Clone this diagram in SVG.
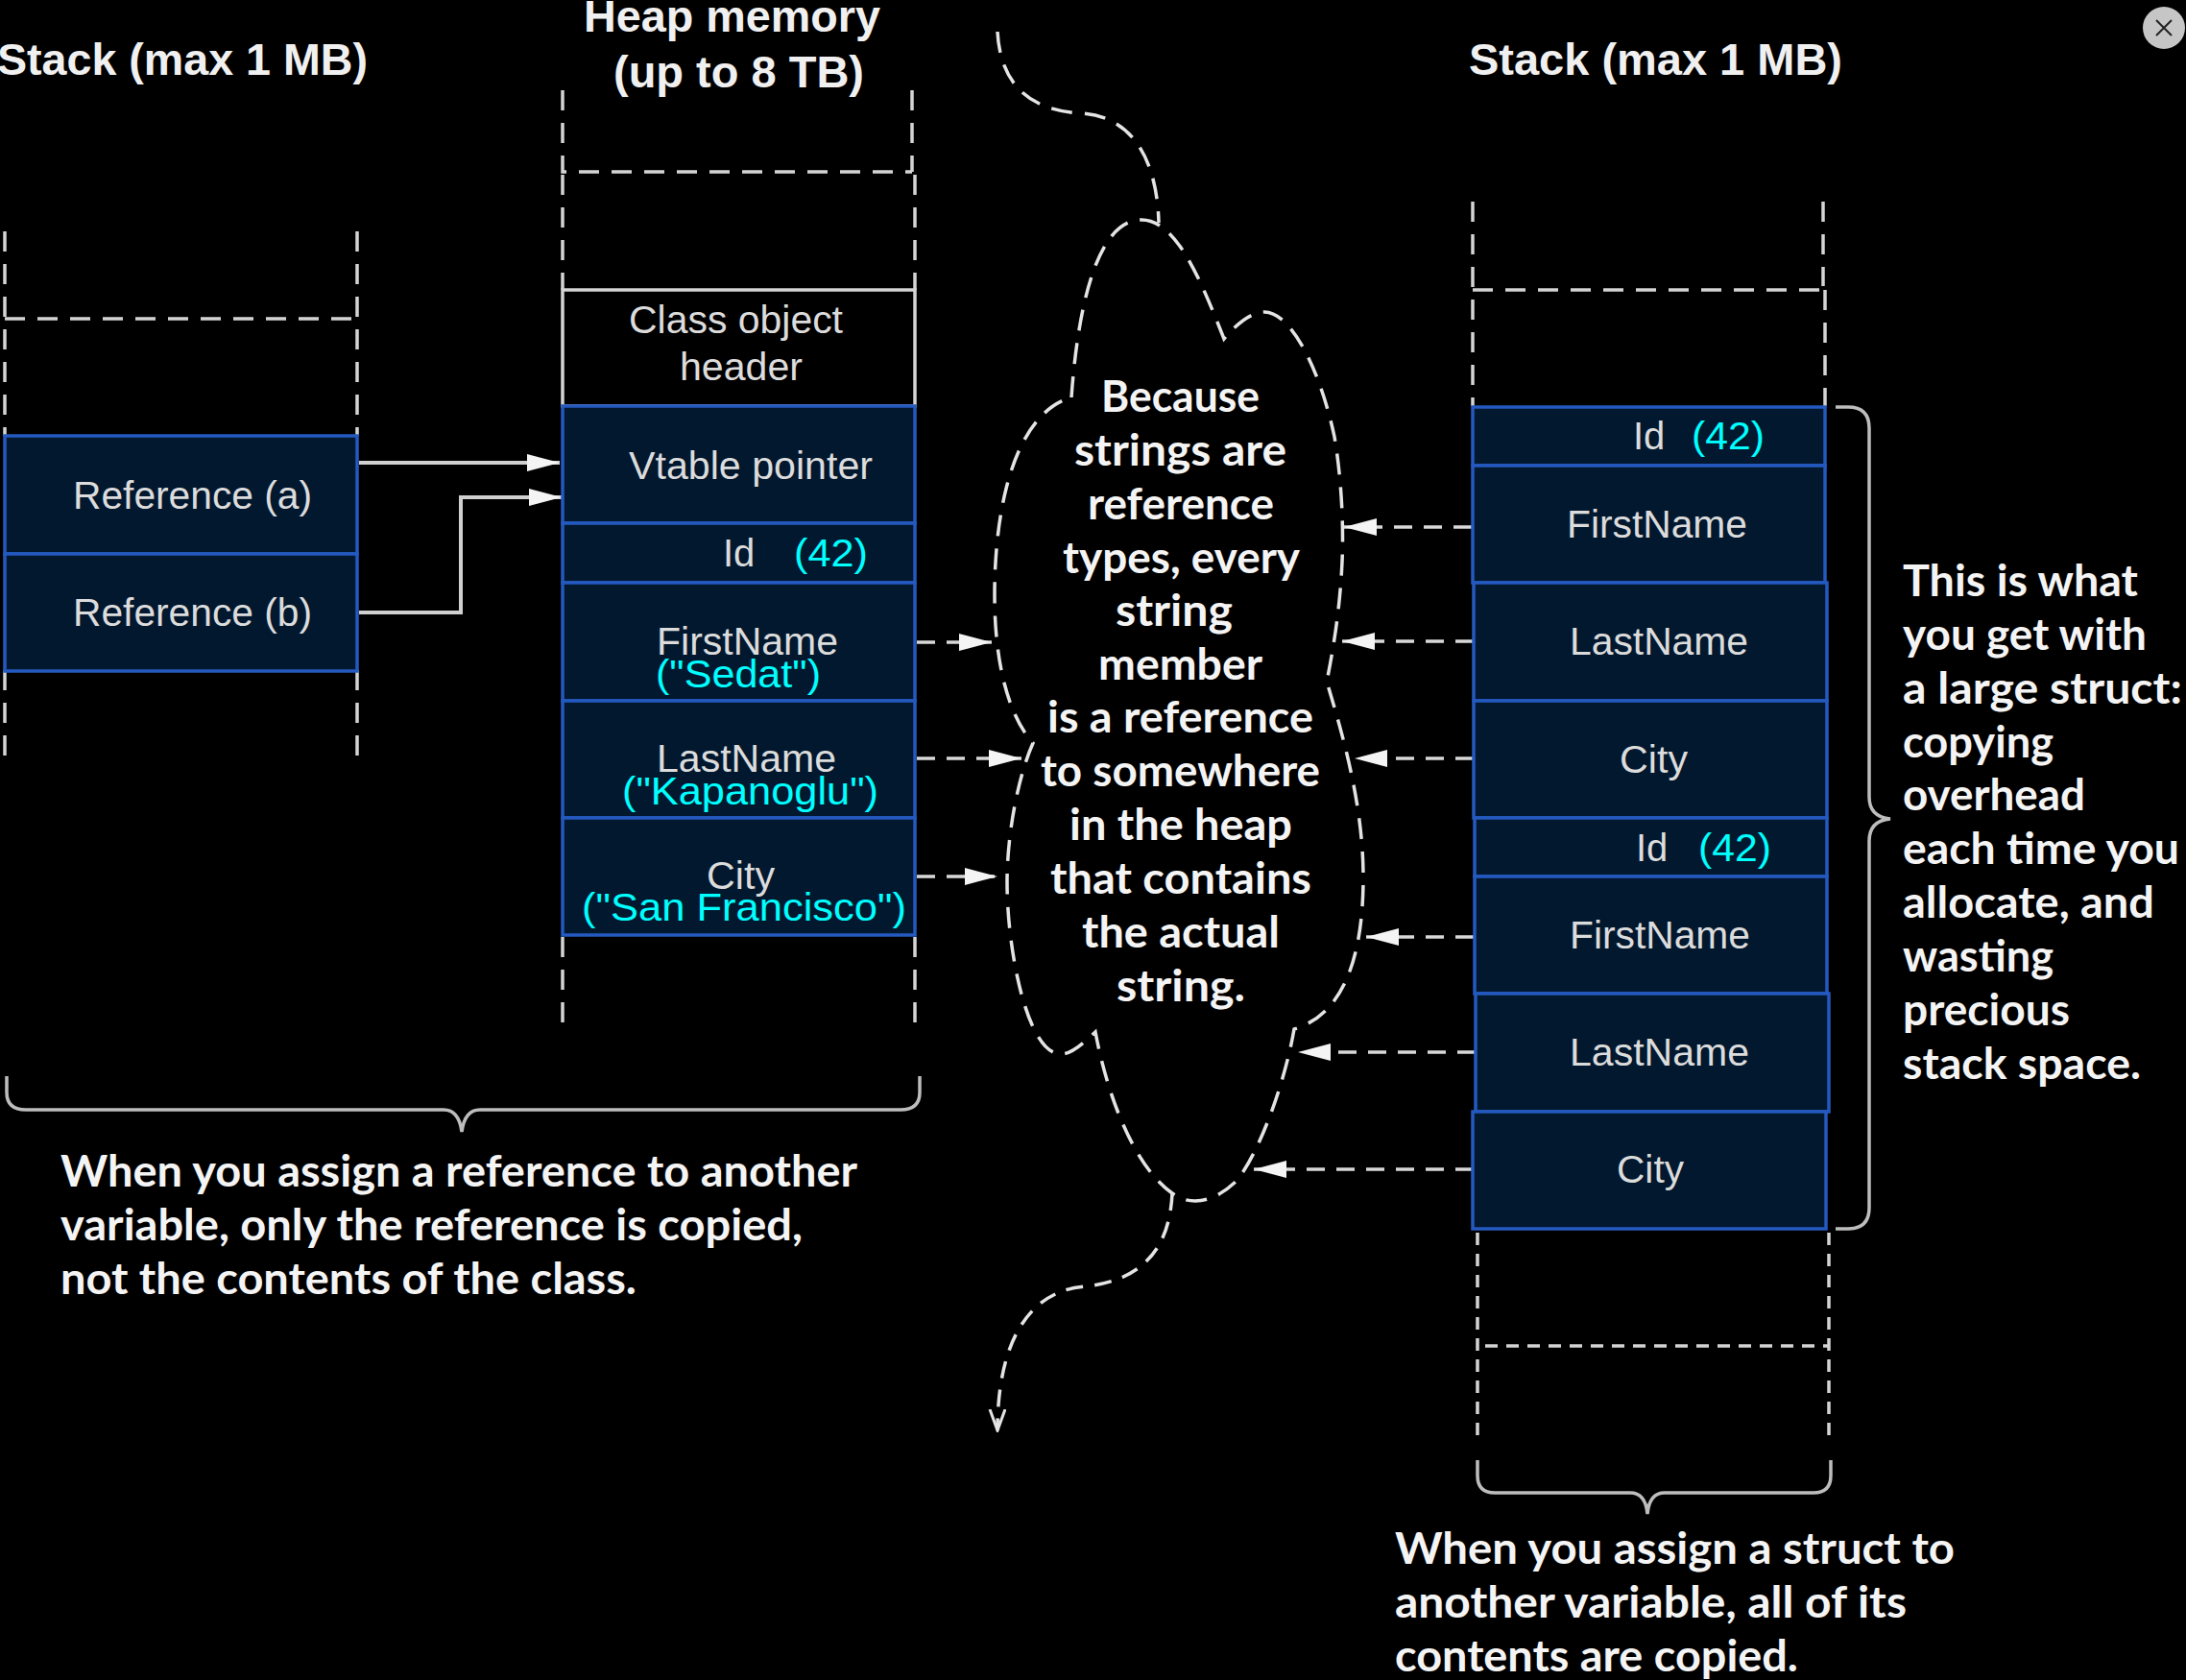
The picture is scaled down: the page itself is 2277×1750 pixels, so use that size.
<svg xmlns="http://www.w3.org/2000/svg" width="2277" height="1750" viewBox="0 0 2277 1750">
<style>
.bx{fill:#02182f;stroke:#2459c0;stroke-width:3.5}
.d{fill:none;stroke:#d4d4d4;stroke-width:3.5;stroke-dasharray:21 13}
.ds{fill:none;stroke:#d4d4d4;stroke-width:3.5;stroke-dasharray:13 9}
.c{fill:none;stroke:#e4e4e4;stroke-width:3.5;stroke-dasharray:22 13}
.a{fill:none;stroke:#d8d8d8;stroke-width:3.5;stroke-dasharray:19 12;marker-end:url(#ah)}
.s{fill:none;stroke:#d0d0d0;stroke-width:4;marker-end:url(#ah)}
.b{fill:none;stroke:#bdbdbd;stroke-width:3.5}
text{font-family:"Liberation Sans",Arial,sans-serif;font-size:40px;fill:#dcdcdc}
.t{font-weight:700;font-size:46px;fill:#f0f0f0}
.y{fill:#0ff}
.n{font-family:Lato,"Liberation Sans",sans-serif;font-weight:700;font-size:46px;fill:#f4f4f4}
</style>
<defs>
<marker id="ah" markerUnits="userSpaceOnUse" markerWidth="36" markerHeight="22" refX="34" refY="10" orient="auto"><path d="M0,1 L34,10 L0,19 Z" fill="#f4f4f4"/></marker>
<marker id="oh" markerUnits="userSpaceOnUse" markerWidth="24" markerHeight="30" refX="22" refY="9" orient="auto"><path d="M0,1 L22,9 L0,17" fill="none" stroke="#e4e4e4" stroke-width="3"/></marker>
</defs>
<rect width="2277" height="1750" fill="#000"/>

<g id="connectors">
<path class="s" d="M374,482 H583"/>
<path class="s" d="M374,638 H480 V518 H585"/>
<path class="a" d="M955,669 H1033"/>
<path class="a" d="M955,790 H1064"/>
<path class="a" d="M955,913 H1039"/>
<path class="a" d="M1533,549 H1400"/>
<path class="a" d="M1535,668 H1398"/>
<path class="a" d="M1535,790 H1411"/>
<path class="a" d="M1535,976 H1423"/>
<path class="a" d="M1537,1096 H1352"/>
<path class="a" d="M1535,1218 H1306"/>
<path class="c" d="M1039,33 C1042,90 1075,115 1125,118 C1175,120 1205,160 1207,232"/>
<path class="ds" style="stroke:#e4e4e4;stroke-dasharray:18 12;marker-end:url(#oh)" d="M1221,1243 C1218,1310 1180,1335 1130,1340 C1070,1345 1039,1400 1039,1490"/>
</g>

<g id="stack-left">
<path class="d" d="M5,241 V454 M372,241 V454 M5,332 H372 M5,698 V792 M372,698 V792"/>
<text class="t" x="-3" y="78" textLength="386" lengthAdjust="spacingAndGlyphs">Stack (max 1 MB)</text>
</g>
<g id="reference-a"><rect class="bx" x="5" y="454" width="367" height="123"/><text x="76" y="530" textLength="249" lengthAdjust="spacingAndGlyphs">Reference (a)</text></g>
<g id="reference-b"><rect class="bx" x="5" y="577" width="367" height="122"/><text x="76" y="652" textLength="249" lengthAdjust="spacingAndGlyphs">Reference (b)</text></g>

<g id="heap">
<path class="d" d="M586,94 V179 H950 M950,94 V179 M586,182 V302 M953,182 V302 M586,976 V1065 M953,976 V1065"/>
<text class="t" x="608" y="33" textLength="309" lengthAdjust="spacingAndGlyphs">Heap memory</text>
<text class="t" x="639" y="91" textLength="261" lengthAdjust="spacingAndGlyphs">(up to 8 TB)</text>
</g>
<g id="class-header"><rect x="586" y="302" width="367" height="121" fill="#000" stroke="#d4d4d4" stroke-width="3.5"/>
<text x="655" y="347" textLength="223" lengthAdjust="spacingAndGlyphs">Class object</text><text x="708" y="396" textLength="128" lengthAdjust="spacingAndGlyphs">header</text></g>
<g id="vtable"><rect class="bx" x="586" y="423" width="367" height="122"/><text x="655" y="499" textLength="254" lengthAdjust="spacingAndGlyphs">Vtable pointer</text></g>
<g id="heap-id"><rect class="bx" x="586" y="545" width="367" height="62"/><text x="753" y="590">Id</text><text class="y" x="827" y="590" textLength="77" lengthAdjust="spacingAndGlyphs">(42)</text></g>
<g id="heap-firstname"><rect class="bx" x="586" y="607" width="367" height="123"/><text x="684" y="682" textLength="189" lengthAdjust="spacingAndGlyphs">FirstName</text><text class="y" x="683" y="716" textLength="172" lengthAdjust="spacingAndGlyphs">("Sedat")</text></g>
<g id="heap-lastname"><rect class="bx" x="586" y="730" width="367" height="122"/><text x="684" y="804" textLength="187" lengthAdjust="spacingAndGlyphs">LastName</text><text class="y" x="648" y="838" textLength="267" lengthAdjust="spacingAndGlyphs">("Kapanoglu")</text></g>
<g id="heap-city"><rect class="bx" x="586" y="852" width="367" height="122"/><text x="736" y="926" textLength="71" lengthAdjust="spacingAndGlyphs">City</text><text class="y" x="606" y="959" textLength="338" lengthAdjust="spacingAndGlyphs">("San Francisco")</text></g>

<g id="cloud">
<path class="c" d="M1116,414 C1122,330 1140,229 1189,229 C1225,229 1250,290 1275,353 C1290,335 1305,325 1317,325 C1345,325 1375,385 1390,455 C1396,490 1400,540 1398,585 C1396,630 1390,670 1382,710 C1400,770 1420,840 1420,914 C1420,985 1405,1055 1348,1072 C1338,1130 1310,1205 1287,1231 C1272,1245 1258,1251 1245,1251 C1235,1251 1228,1248 1221,1243 C1185,1218 1155,1150 1141,1075 C1125,1090 1115,1098 1105,1098 C1070,1098 1049,990 1049,919 C1049,870 1060,810 1076,774 C1050,745 1036,690 1036,620 C1036,520 1060,430 1116,414 Z"/>
<text class="n" x="1147" y="429" textLength="165" lengthAdjust="spacingAndGlyphs">Because</text>
<text class="n" x="1119" y="485" textLength="221" lengthAdjust="spacingAndGlyphs">strings are</text>
<text class="n" x="1133" y="541" textLength="194" lengthAdjust="spacingAndGlyphs">reference</text>
<text class="n" x="1107" y="597" textLength="247" lengthAdjust="spacingAndGlyphs">types, every</text>
<text class="n" x="1162" y="652" textLength="122" lengthAdjust="spacingAndGlyphs">string</text>
<text class="n" x="1144" y="708" textLength="171" lengthAdjust="spacingAndGlyphs">member</text>
<text class="n" x="1091" y="763" textLength="277" lengthAdjust="spacingAndGlyphs">is a reference</text>
<text class="n" x="1084" y="819" textLength="291" lengthAdjust="spacingAndGlyphs">to somewhere</text>
<text class="n" x="1114" y="875" textLength="232" lengthAdjust="spacingAndGlyphs">in the heap</text>
<text class="n" x="1094" y="931" textLength="272" lengthAdjust="spacingAndGlyphs">that contains</text>
<text class="n" x="1127" y="987" textLength="206" lengthAdjust="spacingAndGlyphs">the actual</text>
<text class="n" x="1163" y="1043" textLength="134" lengthAdjust="spacingAndGlyphs">string.</text>
</g>

<g id="stack-right">
<path class="d" d="M1534,210 V423 M1899,210 V298 M1534,302 H1899 M1901,302 V423"/>
<path class="ds" d="M1539,1284 V1496 M1905,1284 V1496 M1547,1402 H1905"/>
<text class="t" x="1530" y="78" textLength="389" lengthAdjust="spacingAndGlyphs">Stack (max 1 MB)</text>
</g>
<g id="r-id1"><rect class="bx" x="1534" y="424" width="367" height="61"/><text x="1701" y="468">Id</text><text class="y" x="1762" y="468" textLength="76" lengthAdjust="spacingAndGlyphs">(42)</text></g>
<g id="r-firstname1"><rect class="bx" x="1534" y="485" width="367" height="122"/><text x="1632" y="560" textLength="188" lengthAdjust="spacingAndGlyphs">FirstName</text></g>
<g id="r-lastname1"><rect class="bx" x="1535" y="607" width="368" height="123"/><text x="1635" y="682" textLength="186" lengthAdjust="spacingAndGlyphs">LastName</text></g>
<g id="r-city1"><rect class="bx" x="1535" y="730" width="368" height="122"/><text x="1687" y="805" textLength="71" lengthAdjust="spacingAndGlyphs">City</text></g>
<g id="r-id2"><rect class="bx" x="1536" y="852" width="367" height="61"/><text x="1704" y="897">Id</text><text class="y" x="1769" y="897" textLength="76" lengthAdjust="spacingAndGlyphs">(42)</text></g>
<g id="r-firstname2"><rect class="bx" x="1536" y="913" width="367" height="122"/><text x="1635" y="988" textLength="188" lengthAdjust="spacingAndGlyphs">FirstName</text></g>
<g id="r-lastname2"><rect class="bx" x="1537" y="1035" width="368" height="123"/><text x="1635" y="1110" textLength="187" lengthAdjust="spacingAndGlyphs">LastName</text></g>
<g id="r-city2"><rect class="bx" x="1534" y="1158" width="368" height="122"/><text x="1684" y="1232" textLength="70" lengthAdjust="spacingAndGlyphs">City</text></g>

<g id="brace-left"><path class="b" d="M7,1121 V1138 Q7,1156 27,1156 H462 Q478,1156 481,1179 Q484,1156 500,1156 H938 Q958,1156 958,1138 V1121"/>
<text class="n" x="63" y="1236" textLength="830" lengthAdjust="spacingAndGlyphs">When you assign a reference to another</text>
<text class="n" x="63" y="1292" textLength="773" lengthAdjust="spacingAndGlyphs">variable, only the reference is copied,</text>
<text class="n" x="63" y="1348" textLength="600" lengthAdjust="spacingAndGlyphs">not the contents of the class.</text></g>

<g id="brace-right"><path class="b" d="M1912,424 H1925 Q1947,424 1947,446 V830 Q1947,851 1969,853 Q1947,855 1947,876 V1258 Q1947,1280 1925,1280 H1912"/>
<text class="n" x="1982" y="621" textLength="245" lengthAdjust="spacingAndGlyphs">This is what</text>
<text class="n" x="1982" y="677" textLength="254" lengthAdjust="spacingAndGlyphs">you get with</text>
<text class="n" x="1982" y="733" textLength="291" lengthAdjust="spacingAndGlyphs">a large struct:</text>
<text class="n" x="1982" y="789" textLength="157" lengthAdjust="spacingAndGlyphs">copying</text>
<text class="n" x="1982" y="844" textLength="190" lengthAdjust="spacingAndGlyphs">overhead</text>
<text class="n" x="1982" y="900" textLength="288" lengthAdjust="spacingAndGlyphs">each time you</text>
<text class="n" x="1982" y="956" textLength="262" lengthAdjust="spacingAndGlyphs">allocate, and</text>
<text class="n" x="1982" y="1012" textLength="157" lengthAdjust="spacingAndGlyphs">wasting</text>
<text class="n" x="1982" y="1068" textLength="174" lengthAdjust="spacingAndGlyphs">precious</text>
<text class="n" x="1982" y="1124" textLength="248" lengthAdjust="spacingAndGlyphs">stack space.</text></g>

<g id="brace-bottom"><path class="b" d="M1539,1521 V1537 Q1539,1555 1557,1555 H1698 Q1714,1555 1716,1577 Q1718,1555 1734,1555 H1889 Q1907,1555 1907,1537 V1521"/>
<text class="n" x="1453" y="1629" textLength="583" lengthAdjust="spacingAndGlyphs">When you assign a struct to</text>
<text class="n" x="1453" y="1685" textLength="533" lengthAdjust="spacingAndGlyphs">another variable, all of its</text>
<text class="n" x="1453" y="1741" textLength="420" lengthAdjust="spacingAndGlyphs">contents are copied.</text></g>

<g id="close"><circle cx="2254" cy="29" r="22" fill="#c6c6c6"/><path d="M2246,21 L2262,37 M2262,21 L2246,37" stroke="#222" stroke-width="2" fill="none"/></g>
</svg>
